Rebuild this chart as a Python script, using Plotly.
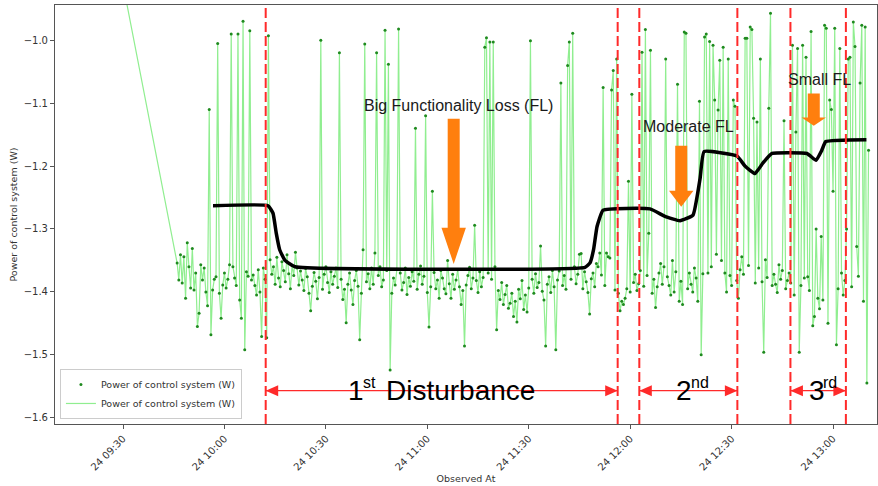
import pandas as pd
import plotly.graph_objects as go

DAY = "2023-08-24 "

# ---- data -------------------------------------------------------------
lead_times = [DAY + "09:20:00"]
lead_values = [-0.634]

sample_start = DAY + "09:46:00"
sample_step = "30s"

power_a = [
    -1.354, -1.381, -1.341, -1.386, -1.344, -1.410, -1.322, -1.360, -1.394, -1.331,
    -1.397, -1.370, -1.455, -1.434, -1.357, -1.381, -1.362, -1.400, -1.422, -1.110,
    -1.468, -1.397, -1.380, -1.376, -1.005, -1.402, -1.442, -1.389, -1.370, -1.394,
    -1.380, -1.357, -0.990, -1.360, -1.378, -1.390, -0.990, -1.413, -1.442, -0.970,
    -1.492, -1.368, -1.375, -0.985, -1.381, -1.373, -1.390, -1.405, -1.365, -1.400,
    -1.471, -1.362, -1.380, -1.473, -0.993, -1.349, -1.372, -1.360, -1.388, -1.345,
]
power_b = [
    -1.378, -1.392, -1.352, -1.366, -1.384, -1.341, -1.371, -1.395, -1.358, -1.374,
    -1.337, -1.362, -1.389, -1.367, -1.381, -1.398, -1.363, -1.376, -1.402, -1.430,
    -1.391, -1.369, -1.383, -1.411, -1.377, -1.000, -1.396, -1.372, -1.360, -1.385,
    -1.401, -1.368, -1.388, -1.375, -1.362, -1.393, -1.020, -1.380, -1.412, -1.396,
    -1.449, -1.388, -1.370, -1.397, -1.420, -1.382, -1.366, -1.391, -1.476, -1.402,
    -1.333, -1.006, -1.384, -1.371, -1.395, -1.362, -1.388, -1.338, -1.020, -1.374,
    -1.360, -1.392, -1.381, -0.984, -1.366, -1.038, -1.524, -1.402, -1.378, -1.389,
    -1.364, -0.982, -1.370, -1.397, -1.385, -1.362, -1.404, -1.377, -1.391, -1.368,
    -1.383, -1.140, -1.396, -1.372, -1.359, -1.388, -1.375, -1.120, -1.401, -1.456,
    -1.392, -1.240, -1.369, -1.395, -1.381, -1.410, -1.366, -1.378, -1.395, -1.403,
    -1.350, -1.387, -1.410, -1.372, -1.396, -1.381, -1.365, -1.392, -1.420, -1.398,
    -1.486, -1.389, -1.374, -1.361, -1.395, -1.378, -1.294, -1.382, -1.401, -1.368,
    -1.392, -1.377, -1.011, -0.996, -1.370, -1.003, -1.380, -1.003, -1.360, -1.460,
    -1.398, -1.412, -1.385, -1.420, -1.404, -1.390, -1.426, -1.418, -1.402, -1.439,
    -1.415, -1.448, -1.396, -1.411, -1.382, -1.428, -1.405, -1.432, -1.394, -1.001,
    -1.380, -1.402, -1.371, -1.393, -1.385, -1.327, -1.399, -1.413, -1.486, -1.388,
    -1.376, -1.401, -1.366, -1.392, -1.492, -1.381, -1.367, -1.068, -1.390, -1.374,
    -1.396, -1.040, -1.003, -1.380, -0.989, -1.360, -1.387, -1.372, -1.340, -1.339,
    -1.395, -1.368, -1.384, -1.401, -1.435, -1.379, -1.370, -1.392, -1.355, -1.360,
    -1.338, -1.373, -1.075, -1.390, -1.338, -1.344, -1.346, -1.079, -1.048, -1.397,
]
power_c = [
    -1.030, -1.402, -1.430, -1.415, -1.420, -1.410, -1.395, -1.224, -1.400, -1.086,
    -1.385, -1.372, -1.398, -1.387, -1.366, -1.019, -1.391, -0.983, -1.374, -1.307,
    -1.016, -1.402, -1.380, -1.425, -1.392, -1.370, -1.355, -1.388, -1.360, -1.030,
    -1.376, -1.390, -1.405, -1.350, -1.400, -1.368, -1.070, -1.415, -1.383, -1.420,
    -0.987, -0.989, -1.395, -1.370, -1.388, -1.400, -1.362, -1.378, -1.415, -1.097,
    -1.500, -1.371, -0.995, -0.990, -1.370, -1.002, -1.360, -1.008, -1.095, -1.340,
    -1.111, -1.032, -1.350, -1.011, -1.370, -1.400, -1.030, -1.374, -1.390, -1.095,
]
power_d = [
    -1.105, -1.382, -1.410, -1.365, -1.344, -1.372, -0.997, -0.997, -1.358, -0.979,
    -0.983, -1.124, -1.386, -1.130, -1.362, -1.030, -1.384, -1.496, -1.349, -1.377,
    -1.108, -0.957, -1.390, -1.372, -1.388, -1.401, -1.357, -1.380, -1.366, -1.128,
    -1.395, -1.382, -1.370, -1.386, -1.008, -1.405, -1.146, -1.013, -1.496, -1.390,
    -1.008, -1.378, -1.027, -1.376, -1.398, -0.986, -1.454, -1.439, -1.300, -1.410,
    -1.427, -1.312, -1.413, -0.976, -0.981, -1.450, -1.095, -1.110, -1.240, -0.981,
    -1.484, -1.395, -1.013, -1.370, -1.405, -1.382, -1.300, -1.030, -1.027, -1.392,
    -0.971, -1.010, -1.328, -1.375, -1.068, -0.976, -1.415, -0.979, -1.545, -1.175,
]

fit_times = [
    "09:56:37", "10:12:53", "10:14:22", "10:15:20", "10:16:20", "10:17:55", "10:20:53",
    "11:46:39", "11:48:07", "11:49:10", "11:50:12", "11:52:00",
    "12:05:52", "12:10:18", "12:14:44", "12:18:35", "12:20:40", "12:21:51",
    "12:31:36", "12:33:57", "12:36:55", "12:39:17", "12:41:57",
    "12:52:18", "12:54:58", "12:56:40", "12:57:51", "13:09:52",
]
fit_values = [
    -1.263, -1.263, -1.275, -1.307, -1.333, -1.350, -1.360,
    -1.361, -1.354, -1.333, -1.296, -1.270,
    -1.268, -1.280, -1.287, -1.278, -1.220, -1.177,
    -1.184, -1.200, -1.212, -1.195, -1.180,
    -1.180, -1.191, -1.175, -1.161, -1.158,
]

disturbance_bounds = ["10:12:12", "11:56:18", "12:02:42", "12:31:42", "12:47:24", "13:03:48"]
# each label: (anchor time, [(text, x shift px, font px, y shift px), ...])
disturbance_labels = [
    ("10:36:33", [("1", 0, 28, 0), ("st", 15, 16, 8), ("Disturbance", 38, 28, 0)]),
    ("12:13:34", [("2", 0, 28, 0), ("nd", 15, 16, 8)]),
    ("12:52:54", [("3", 0, 28, 0), ("rd", 14, 16, 8)]),
]

fl_labels = ["Big Functionality Loss (FL)", "Moderate FL", "Small FL"]
fl_label_times = ["11:09:22", "12:17:15", "12:56:00"]
fl_label_values = [-1.1032, -1.1376, -1.0619]
fl_arrow_times = ["11:07:48", "12:15:06", "12:54:18"]
fl_arrow_top = [-1.125, -1.1678, -1.0846]
fl_arrow_head = [-1.298, -1.2392, -1.1227]
fl_arrow_tip = [-1.3556, -1.2646, -1.136]

tick_times = ["09:30", "10:00", "10:30", "11:00", "11:30", "12:00", "12:30", "13:00"]
tick_labels = ["24 " + t for t in tick_times]
y_ticks = [-1.6, -1.5, -1.4, -1.3, -1.2, -1.1, -1.0]
y_tick_labels = ["\u22121.6", "\u22121.5", "\u22121.4", "\u22121.3", "\u22121.2", "\u22121.1", "\u22121.0"]

# ---- build --------------------------------------------------------------
power = power_a + power_b + power_c + power_d
times = list(pd.date_range(sample_start, periods=len(power), freq=sample_step))
all_times = [pd.Timestamp(t) for t in lead_times] + times
all_values = lead_values + power

fig = go.Figure()
NAME = "Power of control system (W)"
fig.add_trace(go.Scatter(
    x=all_times, y=all_values, mode="lines", name=NAME,
    line=dict(color="#90ee90", width=1.2), legendrank=2,
))
fig.add_trace(go.Scatter(
    x=all_times, y=all_values, mode="markers", name=NAME,
    marker=dict(color="#1f8a1f", size=3), legendrank=1,
))
fig.add_trace(go.Scatter(
    x=[DAY + t for t in fit_times], y=fit_values, mode="lines",
    line=dict(color="black", width=3.5, shape="spline", smoothing=0.35),
    showlegend=False, hoverinfo="skip",
))

RED = "#ff2a2a"
shapes = []
for t in disturbance_bounds:
    shapes.append(dict(
        type="line", xref="x", yref="paper", x0=DAY + t, x1=DAY + t, y0=0, y1=0.995,
        line=dict(color=RED, width=2, dash="10px,4px"), layer="above",
    ))
for t, top, head, tip in zip(fl_arrow_times, fl_arrow_top, fl_arrow_head, fl_arrow_tip):
    sw, hw = 6.0, 12.2
    path = (f"M {-sw} {top} L {sw} {top} L {sw} {head} L {hw} {head} "
            f"L 0 {tip} L {-hw} {head} L {-sw} {head} Z")
    shapes.append(dict(
        type="path", xref="x", yref="y", xsizemode="pixel", xanchor=DAY + t,
        path=path, fillcolor="#ff7f0e", line=dict(width=0), layer="above",
    ))

arrow_y = -1.5571
head_len, head_half = 12.5, 5.5
for k in range(3):
    t0 = DAY + disturbance_bounds[2 * k]
    t1 = DAY + disturbance_bounds[2 * k + 1]
    shapes.append(dict(
        type="line", xref="x", yref="y", x0=t0, x1=t1, y0=arrow_y, y1=arrow_y,
        line=dict(color=RED, width=1.3), layer="above",
    ))
    for anchor, sgn in ((t0, 1), (t1, -1)):
        shapes.append(dict(
            type="path", xref="x", yref="y", xsizemode="pixel", ysizemode="pixel",
            xanchor=anchor, yanchor=arrow_y,
            path=f"M 0 0 L {sgn * head_len} {head_half} L {sgn * head_len} {-head_half} Z",
            fillcolor=RED, line=dict(width=0), layer="above",
        ))

annotations = []
for t, pieces in disturbance_labels:
    for txt, dx, fs, dy in pieces:
        annotations.append(dict(
            x=DAY + t, y=arrow_y, xref="x", yref="y", text=txt, showarrow=False,
            xanchor="left", yanchor="middle", xshift=dx - 1, yshift=dy,
            borderpad=0,
            font=dict(family="Liberation Sans, Arial", size=fs, color="black"),
        ))
for lab, t, v in zip(fl_labels, fl_label_times, fl_label_values):
    annotations.append(dict(
        x=DAY + t, y=v, xref="x", yref="y", text=lab, showarrow=False,
        xanchor="center", yanchor="middle",
        font=dict(family="Liberation Sans, Arial", size=16, color="#1a1a1a"),
    ))

axis_font = dict(family="DejaVu Sans", size=10, color="#333")
fig.update_layout(
    width=878, height=486, template="none",
    margin=dict(l=55, r=1, t=5, b=62),
    paper_bgcolor="white", plot_bgcolor="white",
    font=axis_font,
    shapes=shapes, annotations=annotations,
    legend=dict(
        x=0.006, y=0.012, xanchor="left", yanchor="bottom",
        bgcolor="rgba(255,255,255,0.85)", bordercolor="#cccccc", borderwidth=1,
        font=dict(family="DejaVu Sans", size=9.5, color="#333"),
        tracegroupgap=0, itemwidth=30,
    ),
    xaxis=dict(
        type="date", range=[DAY + "09:09:53", DAY + "13:13:00"],
        tickvals=[DAY + t for t in tick_times], ticktext=tick_labels, tickangle=-45,
        showgrid=False, zeroline=False, showline=True, mirror=True,
        linecolor="#555", linewidth=1, ticks="outside", ticklen=4, tickcolor="#555",
        tickfont=axis_font, automargin=False,
        title=dict(text="Observed At", font=dict(family="DejaVu Sans", size=9.5, color="#333"), standoff=2),
    ),
    yaxis=dict(
        range=[-1.61, -0.944], tickvals=y_ticks, ticktext=y_tick_labels,
        showgrid=False, zeroline=False, showline=True, mirror=True,
        linecolor="#555", linewidth=1, ticks="outside", ticklen=4, tickcolor="#555",
        tickfont=axis_font, automargin=False,
        title=dict(text=NAME, font=dict(family="DejaVu Sans", size=9.5, color="#333"), standoff=4),
    ),
)

fig.write_html("out.html")
